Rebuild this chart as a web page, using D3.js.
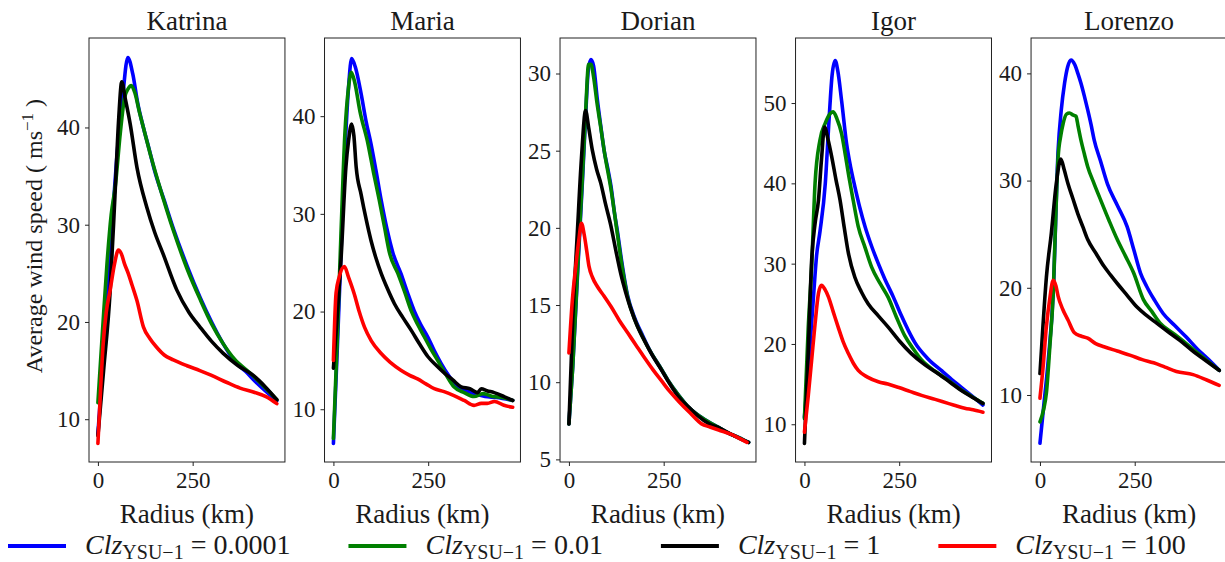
<!DOCTYPE html>
<html>
<head>
<meta charset="utf-8">
<script src="https://d3js.org/d3.v7.min.js"></script>
<style>
body { margin: 0; background: white; }
</style>
</head>
<body>
<svg width="1225" height="562" font-family="Liberation Serif, DejaVu Serif, serif"></svg>
<script>
const storms = ['Katrina', 'Maria', 'Dorian', 'Igor', 'Lorenzo'],
    clz_values = ['0.0001', '0.01', '1', '100'],
    series_colors = ['#0000ff', '#008000', '#000000', '#ff0000']

// y axis per storm: domain + ticks
const y_domains = [[5.6, 49.2], [4.6, 48.0], [4.83, 32.3], [5.3, 58.1], [3.75, 43.3]],
    y_ticks = [[10, 20, 30, 40], [10, 20, 30, 40], [5, 10, 15, 20, 25, 30], [10, 20, 30, 40, 50], [10, 20, 30, 40]],
    x_domain = [-23.5, 493.5],
    x_ticks = [0, 250]

// [radius km, wind speed m/s] ; order = Clz 0.0001, 0.01, 1, 100
const katrina = [
    [[0, 8.5], [10, 14], [20, 20], [35, 29], [50, 37], [65, 43], [79, 47.2], [92, 45.5], [105, 42.5], [120, 40], [135, 37.8], [150, 35.5], [175, 32.5], [200, 29.5], [235, 25.8], [270, 22.5], [300, 20], [330, 17.8], [360, 16], [390, 14.9], [420, 13.7], [445, 12.8], [472, 11.9]],
    [[0, 11.7], [12, 19], [24, 26], [35, 31], [46, 34], [59, 39.4], [70, 43], [80, 44], [88, 44.3], [98, 43.5], [110, 41.5], [120, 40], [140, 37], [160, 34.3], [200, 29.3], [235, 25.5], [270, 22.3], [300, 19.8], [330, 17.8], [360, 16.2], [400, 14.8], [440, 13.3], [472, 12]],
    [[0, 8.3], [15, 15], [32, 23], [45, 33], [55, 41], [63, 44.7], [72, 43], [85, 40.4], [103, 35.9], [129, 31.8], [150, 29.2], [172, 27], [208, 23.3], [240, 21], [269, 19.5], [300, 18], [330, 16.8], [370, 15.5], [410, 14.5], [440, 13.4], [472, 12]],
    [[0, 7.5], [7, 13], [14, 17.8], [22, 21], [32, 23.2], [44, 26], [54, 27.4], [62, 27], [70, 26], [80, 25], [90, 23.8], [103, 22.2], [120, 19.5], [137, 18.3], [155, 17.4], [175, 16.6], [199, 16.1], [235, 15.5], [269, 15], [300, 14.5], [339, 13.8], [375, 13.2], [410, 12.8], [445, 12.3], [472, 11.6]]
]
const maria = [
    [[0, 6.5], [10, 16], [20, 26], [30, 36], [40, 43], [48, 45.9], [58, 45], [73, 42.3], [86, 39.5], [99, 37.2], [112, 34.5], [126, 31.4], [141, 28.5], [157, 26], [178, 23.9], [195, 22], [213, 20.1], [230, 18.7], [249, 17.4], [266, 16], [284, 14.7], [305, 13.4], [328, 12.3], [350, 11.9], [371, 11.6], [400, 11.3], [430, 11.2], [473, 10.9]],
    [[0, 7], [10, 17], [20, 28], [30, 38], [40, 43], [47, 44.5], [56, 43.5], [70, 40.5], [91, 37.2], [106, 34.2], [121, 31.4], [135, 28.6], [148, 26], [170, 23.9], [188, 22], [205, 20.1], [222, 18.7], [240, 17.4], [258, 16.1], [275, 15], [296, 13.6], [318, 12.3], [345, 11.7], [371, 11.3], [395, 11.6], [420, 11.3], [445, 11.2], [473, 10.9]],
    [[0, 14.2], [10, 19.5], [20, 25.3], [33, 34.8], [40, 37.5], [48, 39.2], [54, 38], [60, 34.8], [73, 32], [86, 29.5], [99, 27.3], [112, 25.5], [126, 23.9], [143, 22.3], [161, 20.8], [183, 19.4], [205, 18.1], [227, 16.7], [249, 15.4], [271, 14.5], [293, 13.7], [315, 13], [337, 12.3], [360, 12.1], [380, 11.7], [390, 12.1], [405, 11.9], [424, 11.7], [450, 11.3], [473, 10.9]],
    [[0, 15], [7, 21.9], [15, 23.5], [29, 24.6], [40, 23.5], [55, 21.8], [68, 20], [82, 18.4], [100, 17], [126, 15.7], [150, 14.8], [178, 14], [200, 13.5], [222, 13.1], [244, 12.6], [266, 12.1], [292, 11.8], [318, 11.4], [345, 10.9], [371, 10.4], [390, 10.6], [406, 10.6], [425, 10.8], [450, 10.4], [473, 10.2]]
]
const dorian = [
    [[0, 7.3], [10, 11], [24, 17.6], [36, 23.2], [44, 27.2], [51, 30.2], [58, 30.9], [65, 30.5], [75, 28.3], [84, 26.6], [93, 25], [102, 23.9], [111, 22.7], [120, 21], [129, 19.6], [137, 18.2], [155, 15.6], [173, 14.2], [195, 13], [217, 11.9], [240, 11], [262, 10.1], [288, 9.2], [315, 8.4], [345, 7.8], [377, 7.3], [400, 7], [421, 6.7], [450, 6.4], [474, 6.1]],
    [[0, 7.3], [10, 11], [24, 17.9], [36, 23.5], [44, 27.5], [52, 30.6], [58, 30.6], [65, 29.8], [74, 28.1], [84, 26.5], [93, 25], [111, 22.5], [129, 19.4], [137, 18], [155, 15.5], [173, 14.1], [195, 12.9], [217, 11.9], [240, 11], [262, 10.1], [288, 9.2], [315, 8.4], [345, 7.8], [377, 7.3], [400, 7], [421, 6.7], [450, 6.4], [474, 6.1]],
    [[0, 7.3], [10, 14], [22, 19.6], [33, 24.5], [44, 27.6], [52, 26.5], [62, 25], [73, 23.8], [84, 22.9], [97, 21.5], [111, 20.1], [124, 18.5], [137, 17], [150, 15.8], [164, 14.7], [181, 13.6], [199, 12.7], [221, 11.7], [244, 10.8], [266, 9.9], [288, 9.1], [315, 8.4], [341, 7.8], [370, 7.3], [400, 7], [430, 6.6], [455, 6.3], [474, 6.1]],
    [[0, 11.9], [9, 15.3], [18, 17.5], [26, 19.2], [33, 20.3], [40, 19.6], [47, 18.5], [53, 17.5], [62, 16.8], [75, 16.2], [92, 15.6], [111, 14.9], [133, 14], [155, 13.2], [177, 12.4], [199, 11.6], [222, 10.8], [244, 10.1], [266, 9.4], [288, 8.8], [320, 8], [350, 7.3], [372, 7.1], [395, 6.9], [430, 6.6], [455, 6.3], [470, 6.1]]
]
const igor = [
    [[0, 10.9], [12, 18], [24, 26], [32, 31], [41, 34], [55, 40], [65, 48], [73, 53.5], [81, 55.3], [88, 54], [98, 50.3], [111, 45], [122, 42], [133, 39.6], [146, 37], [160, 34.6], [177, 32.2], [195, 30], [212, 28.1], [235, 25.8], [256, 23.5], [275, 21.6], [291, 20.2], [325, 18.2], [361, 16.7], [388, 15.6], [414, 14.6], [445, 13.4], [471, 12.4]],
    [[0, 10.7], [10, 22], [19, 29.6], [28, 40], [41, 45.4], [55, 47.5], [68, 48.7], [76, 48.9], [86, 48], [98, 46.2], [107, 43.8], [116, 41.2], [129, 37.8], [142, 34.6], [160, 32], [177, 29.6], [200, 27.5], [221, 25.8], [243, 23.3], [265, 21], [287, 19.4], [309, 18], [345, 16.6], [379, 15.5], [410, 14.4], [440, 13.5], [471, 12.6]],
    [[0, 7.6], [10, 19], [19, 30.4], [28, 35], [37, 37.9], [45, 43], [53, 47], [62, 45.5], [72, 43.3], [83, 40.5], [94, 37.9], [105, 34.5], [116, 31.3], [133, 28.3], [150, 26.5], [168, 25], [195, 23.5], [221, 22.1], [250, 20.4], [282, 18.8], [318, 17.4], [353, 16.3], [385, 15.2], [414, 14.2], [445, 13.3], [471, 12.6]],
    [[0, 9], [10, 13.5], [19, 18], [28, 22.5], [37, 26.3], [45, 27.3], [54, 26.8], [63, 25.9], [76, 24], [89, 22.1], [102, 20.3], [116, 18.8], [129, 17.6], [142, 16.7], [165, 15.9], [195, 15.3], [220, 15], [247, 14.6], [278, 14.1], [309, 13.6], [345, 13.1], [379, 12.6], [400, 12.3], [423, 12], [445, 11.8], [471, 11.5]]
]
const lorenzo = [
    [[0, 5.5], [10, 9], [22, 13.3], [35, 19.5], [48, 32.9], [56, 36.5], [65, 39.1], [73, 40.6], [82, 41.25], [92, 40.8], [100, 40], [108, 39.1], [117, 37.9], [126, 36.6], [135, 35.2], [143, 33.8], [160, 31.8], [178, 29.7], [204, 27.7], [230, 25.7], [248, 23.5], [265, 21.4], [282, 20.1], [303, 18.8], [325, 17.6], [355, 16.5], [386, 15.4], [415, 14.3], [445, 13.3], [473, 12.3]],
    [[0, 7.5], [10, 8.7], [17, 10.2], [26, 14.5], [35, 19.5], [42, 27], [48, 32.2], [55, 34.2], [61, 35.3], [70, 36.2], [78, 36.3], [88, 36.1], [95, 36], [101, 35], [108, 33.8], [117, 32.5], [126, 31.3], [143, 29.7], [160, 28.2], [182, 26.3], [204, 24.5], [225, 23], [247, 21.4], [273, 18.9], [295, 17.8], [317, 16.7], [350, 15.8], [386, 14.8], [420, 13.8], [448, 13], [473, 12.3]],
    [[0, 12], [8, 16.5], [17, 21], [30, 25.1], [43, 29.7], [55, 32], [64, 31], [74, 29.7], [87, 28.3], [100, 26.9], [113, 25.7], [126, 24.5], [148, 23.2], [169, 22], [186, 21.2], [204, 20.4], [230, 19.3], [256, 18.2], [282, 17.4], [308, 16.7], [338, 15.9], [369, 15.1], [400, 14.2], [430, 13.4], [473, 12.3]],
    [[0, 9.7], [8, 12.5], [17, 16.4], [26, 19], [35, 20.7], [42, 20.2], [48, 19.2], [60, 18], [74, 17], [91, 15.8], [108, 15.5], [126, 15.3], [147, 14.8], [169, 14.5], [204, 14.1], [239, 13.7], [270, 13.3], [300, 13], [330, 12.6], [360, 12.2], [404, 11.9], [440, 11.4], [473, 10.9]]
]
const storm_data = [katrina, maria, dorian, igor, lorenzo]

const svg = d3.select('svg'),
    serif = 'Liberation Serif, DejaVu Serif, serif',
    text_color = '#1a1a1a',
    top_y = 38,
    bottom_y = 462,
    tick_size = 23

const panel = d3.scaleBand()
    .domain(storms)
    .range([89, 1227])
    .paddingInner(0.168)

const x = d3.scaleLinear()
    .domain(x_domain)
    .range([0, panel.bandwidth()])

function add_text(sel, size) {
    return sel.append('text')
        .attr('font-family', serif)
        .style('font-size', size + 'px')
        .style('fill', text_color)
}

storms.forEach(function (name, i) {
    const g = svg.append('g')
        .attr('transform', 'translate(' + panel(name) + ',0)')

    const y = d3.scaleLinear()
        .domain(y_domains[i])
        .range([bottom_y, top_y])

    const line = d3.line()
        .x((d) => x(d[0]))
        .y((d) => y(d[1]))
        .curve(d3.curveMonotoneX)

    g.selectAll('.curve')
        .data(storm_data[i])
        .enter().append('path')
        .attr('d', line)
        .style('fill', 'none')
        .style('stroke', (d, j) => series_colors[j])
        .style('stroke-width', 3.6)
        .style('stroke-linejoin', 'round')
        .style('stroke-linecap', 'round')

    // axes
    const x_axis = g.append('g')
        .attr('transform', 'translate(0,' + bottom_y + ')')
        .call(d3.axisBottom(x).tickValues(x_ticks).tickSize(4).tickPadding(6))
    const y_axis = g.append('g')
        .call(d3.axisLeft(y).tickValues(y_ticks[i]).tickSize(4).tickPadding(5))

    ;[x_axis, y_axis].forEach(function (a) {
        a.attr('font-family', serif).attr('font-size', tick_size)
        a.select('.domain').remove()
        a.selectAll('line').style('stroke', '#222')
        a.selectAll('text').style('fill', text_color)
    })

    g.append('rect')
        .attr('x', 0)
        .attr('y', top_y)
        .attr('width', panel.bandwidth())
        .attr('height', bottom_y - top_y)
        .style('fill', 'none')
        .style('stroke', '#222')
        .style('stroke-width', 1)

    add_text(g, 27)
        .attr('x', panel.bandwidth() / 2)
        .attr('y', 30)
        .style('text-anchor', 'middle')
        .text(name)

    add_text(g, 27)
        .attr('x', panel.bandwidth() / 2)
        .attr('y', 523)
        .style('text-anchor', 'middle')
        .text('Radius (km)')
})

// y label
const ylab = add_text(svg, 24)
    .attr('transform', 'translate(42,236)rotate(-90)')
    .style('text-anchor', 'middle')
ylab.append('tspan').text('Average wind speed ( ms')
ylab.append('tspan').attr('dy', -9).style('font-size', '17px').text('\u22121')
ylab.append('tspan').attr('dy', 9).text(' )')

// legend
let lx = 8
const legend_y = 546
clz_values.forEach(function (v, j) {
    svg.append('line')
        .attr('x1', lx)
        .attr('x2', lx + 58)
        .attr('y1', legend_y)
        .attr('y2', legend_y)
        .style('stroke', series_colors[j])
        .style('stroke-width', 4)
    const t = add_text(svg, 28)
        .attr('x', lx + 77)
        .attr('y', legend_y + 8)
    t.append('tspan').style('font-style', 'italic').text('Clz')
    t.append('tspan').attr('dy', 5).style('font-size', '20px').text('YSU\u22121')
    t.append('tspan').attr('dy', -5).text(' = ' + v)
    lx = lx + 77 + t.node().getComputedTextLength() + 58
})
</script>
</body>
</html>
